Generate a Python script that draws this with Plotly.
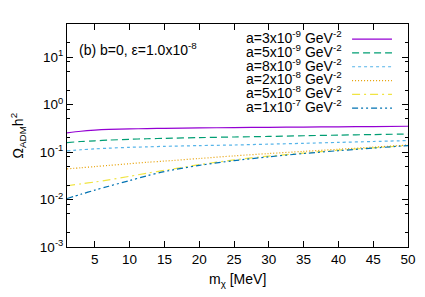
import plotly.graph_objects as go

m_chi = [1, 3, 5, 7, 10, 12.5, 15, 20, 25, 30, 35, 40, 45, 50]
omega_a3e9 = [0.253, 0.275, 0.29, 0.30, 0.308, 0.313, 0.317, 0.323, 0.328, 0.333, 0.337, 0.341, 0.345, 0.35]
omega_a5e9 = [0.159, 0.167, 0.173, 0.179, 0.186, 0.191, 0.195, 0.202, 0.208, 0.214, 0.221, 0.228, 0.234, 0.24]
omega_a8e9 = [0.106, 0.112, 0.117, 0.121, 0.126, 0.129, 0.132, 0.137, 0.141, 0.147, 0.153, 0.160, 0.167, 0.175]
omega_a2e8 = [0.0444, 0.0468, 0.0495, 0.0525, 0.0569, 0.061, 0.0646, 0.0733, 0.0832, 0.0933, 0.1035, 0.1148, 0.127, 0.141]
omega_a5e8 = [0.0195, 0.0214, 0.0234, 0.026, 0.0309, 0.0359, 0.0412, 0.0543, 0.0684, 0.0822, 0.0955, 0.1096, 0.123, 0.138]
omega_a1e7 = [0.0105, 0.0129, 0.0158, 0.0191, 0.0251, 0.0316, 0.0389, 0.0525, 0.066, 0.0794, 0.0933, 0.107, 0.1216, 0.137]

labels = ["a=3x10<sup>-9</sup> GeV<sup>-2</sup>", "a=5x10<sup>-9</sup> GeV<sup>-2</sup>",
          "a=8x10<sup>-9</sup> GeV<sup>-2</sup>", "a=2x10<sup>-8</sup> GeV<sup>-2</sup>",
          "a=5x10<sup>-8</sup> GeV<sup>-2</sup>", "a=1x10<sup>-7</sup> GeV<sup>-2</sup>"]
series = [omega_a3e9, omega_a5e9, omega_a8e9, omega_a2e8, omega_a5e8, omega_a1e7]
colors = ["#9400d3", "#009e73", "#56b4e9", "#e69f00", "#f0e442", "#0072b2"]
dashes = ["solid", "7px,4px", "3px,3px", "1px,2px", "8px,4px,2px,4px", "6px,3px,2px,3px,2px,3px"]

xticks = [5, 10, 15, 20, 25, 30, 35, 40, 45, 50]
yticks = [1e-3, 1e-2, 1e-1, 1, 10]
yticktext = ["10<sup>-3</sup>", "10<sup>-2</sup>", "10<sup>-1</sup>", "10<sup>0</sup>", "10<sup>1</sup>"]
yminor = [m * 10 ** e for e in range(-3, 2) for m in (2, 5, 8)]

font = "Liberation Sans, Arial, sans-serif"
fs = 14
fig = go.Figure()
for y, c, d, lab in zip(series, colors, dashes, labels):
    fig.add_trace(go.Scatter(x=m_chi, y=y, mode="lines", name=lab,
                             line=dict(color=c, width=1.2, dash=d, shape="spline", smoothing=0.8),
                             showlegend=False))

# gnuplot-style key: right-aligned text with line sample to its right
for i, (c, d, lab) in enumerate(zip(colors, dashes, labels)):
    yp = 0.942 - i * 0.0619
    fig.add_annotation(x=0.812, y=yp, xref="paper", yref="paper", text=lab,
                       showarrow=False, xanchor="right", yanchor="middle",
                       font=dict(size=fs, color="black", family=font))
    fig.add_shape(type="line", xref="paper", yref="paper", x0=0.836, x1=0.953,
                  y0=yp - 0.01, y1=yp - 0.01, line=dict(color=c, width=1.2, dash=d))

fig.add_annotation(x=0.03, y=0.89, xref="paper", yref="paper",
                   text="(b) b=0, ε=1.0x10<sup>-8</sup>", showarrow=False,
                   xanchor="left", yanchor="middle", font=dict(size=fs, color="black", family=font))

# axis titles
fig.add_annotation(x=-0.144, y=0.5, xref="paper", yref="paper",
                   text="Ω<sub>ADM</sub>h<sup>2</sup>", showarrow=False, textangle=-90,
                   xanchor="center", yanchor="middle", font=dict(size=fs, color="black", family=font))
fig.add_annotation(x=0.5, y=-0.1, xref="paper", yref="paper",
                   text="m<sub>χ</sub> [MeV]", showarrow=False,
                   xanchor="center", yanchor="top", font=dict(size=fs, color="black", family=font))

axis_common = dict(showline=True, linecolor="black", linewidth=1, mirror="allticks",
                   ticks="inside", tickcolor="black", showgrid=False, zeroline=False,
                   tickfont=dict(size=13.5, color="black", family=font))
fig.update_xaxes(range=[1, 50], tickvals=xticks, ticklen=6, **axis_common)
fig.update_yaxes(type="log", range=[-3, 1.699], tickvals=yticks, ticktext=yticktext, ticklen=6,
                 minor=dict(tickvals=yminor, ticks="inside", ticklen=3, tickcolor="black"),
                 **axis_common)
fig.update_layout(width=425, height=297, margin=dict(l=59, r=25, t=16, b=58),
                  plot_bgcolor="white", paper_bgcolor="white",
                  font=dict(family=font, size=fs, color="black"))
fig.write_html("out.html")
